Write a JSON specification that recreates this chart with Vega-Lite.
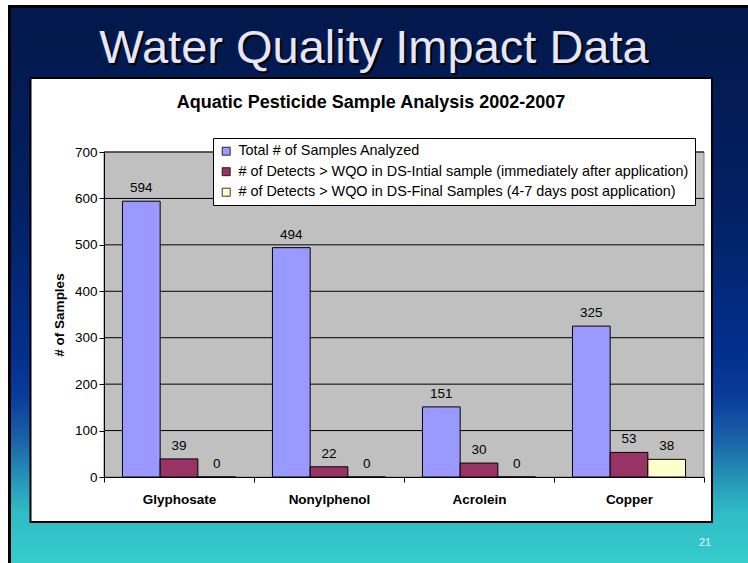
{
  "$schema": "https://vega.github.io/schema/vega-lite/v6.json",
  "width": 600,
  "height": 325,
  "autosize": {"type": "none"},
  "padding": {"left": 104, "top": 152, "right": 44, "bottom": 86},
  "background": "white",
  "config": {
    "font": "Liberation Sans",
    "view": {"stroke": null},
    "axis": {"labelFont": "Liberation Sans", "labelColor": "black", "domainColor": "black", "tickColor": "black", "grid": false, "titleFont": "Liberation Sans", "titleColor": "black"}
  },
  "datasets": {
    "bars": [
      {"substance": "Glyphosate", "series": "Total # of Samples Analyzed", "samples": 594},
      {"substance": "Glyphosate", "series": "# of Detects > WQO in DS-Intial sample (immediately after application)", "samples": 39},
      {"substance": "Glyphosate", "series": "# of Detects > WQO in DS-Final Samples (4-7 days post application)", "samples": 0},
      {"substance": "Nonylphenol", "series": "Total # of Samples Analyzed", "samples": 494},
      {"substance": "Nonylphenol", "series": "# of Detects > WQO in DS-Intial sample (immediately after application)", "samples": 22},
      {"substance": "Nonylphenol", "series": "# of Detects > WQO in DS-Final Samples (4-7 days post application)", "samples": 0},
      {"substance": "Acrolein", "series": "Total # of Samples Analyzed", "samples": 151},
      {"substance": "Acrolein", "series": "# of Detects > WQO in DS-Intial sample (immediately after application)", "samples": 30},
      {"substance": "Acrolein", "series": "# of Detects > WQO in DS-Final Samples (4-7 days post application)", "samples": 0},
      {"substance": "Copper", "series": "Total # of Samples Analyzed", "samples": 325},
      {"substance": "Copper", "series": "# of Detects > WQO in DS-Intial sample (immediately after application)", "samples": 53},
      {"substance": "Copper", "series": "# of Detects > WQO in DS-Final Samples (4-7 days post application)", "samples": 38}
    ],
    "grid": [{"value": 100}, {"value": 200}, {"value": 300}, {"value": 400}, {"value": 500}, {"value": 600}, {"value": 700}],
    "page": [{"page": "21"}],
    "heading": [{"heading": "Water Quality Impact Data"}],
    "charttitle": [{"charttitle": "Aquatic Pesticide Sample Analysis 2002-2007"}]
  },
  "resolve": {"scale": {"x": "independent", "y": "independent"}},
  "layer": [
    {
      "data": {"values": [{}]},
      "mark": {"type": "rect", "color": "black"},
      "encoding": {
        "x": {"datum": -0.16, "type": "quantitative", "scale": {"domain": [0, 1], "nice": false}, "axis": null},
        "x2": {"datum": 1.1},
        "y": {"datum": 1016.6, "type": "quantitative", "scale": {"domain": [0, 700]}, "axis": null},
        "y2": {"datum": -200}
      }
    },
    {
      "data": {"values": [{}]},
      "mark": {
        "type": "rect",
        "color": {
          "gradient": "linear", "x1": 0, "y1": 0, "x2": 0, "y2": 1,
          "stops": [
            {"offset": 0, "color": "#03184a"},
            {"offset": 0.35, "color": "#022062"},
            {"offset": 0.62, "color": "#032f8c"},
            {"offset": 0.7, "color": "#0a3c9c"},
            {"offset": 0.78, "color": "#1a64a8"},
            {"offset": 0.85, "color": "#2696b8"},
            {"offset": 0.91, "color": "#30bcc6"},
            {"offset": 1, "color": "#36cccc"}
          ]
        }
      },
      "encoding": {
        "x": {"datum": -0.155, "type": "quantitative", "scale": {"domain": [0, 1], "nice": false}, "axis": null},
        "x2": {"datum": 1.1},
        "y": {"datum": 1010.2, "type": "quantitative", "scale": {"domain": [0, 700]}, "axis": null},
        "y2": {"datum": -185.2}
      }
    },
    {
      "data": {"name": "heading"},
      "mark": {"type": "text", "fontSize": 47, "font": "Liberation Sans", "color": "#000000", "align": "center", "baseline": "alphabetic", "dx": 2, "dy": 2},
      "encoding": {
        "x": {"datum": 0.45, "type": "quantitative", "scale": {"domain": [0, 1], "nice": false}, "axis": null},
        "y": {"datum": 891.7, "type": "quantitative", "scale": {"domain": [0, 700]}, "axis": null},
        "text": {"field": "heading"}
      }
    },
    {
      "data": {"name": "heading"},
      "mark": {"type": "text", "fontSize": 47, "font": "Liberation Sans", "color": "#e6e6fa", "align": "center", "baseline": "alphabetic"},
      "encoding": {
        "x": {"datum": 0.45, "type": "quantitative", "scale": {"domain": [0, 1], "nice": false}, "axis": null},
        "y": {"datum": 891.7, "type": "quantitative", "scale": {"domain": [0, 700]}, "axis": null},
        "text": {"field": "heading"}
      }
    },
    {
      "data": {"values": [{}]},
      "mark": {"type": "rect", "fill": "white", "stroke": "black", "strokeWidth": 2},
      "encoding": {
        "x": {"datum": -0.1225, "type": "quantitative", "scale": {"domain": [0, 1], "nice": false}, "axis": null},
        "x2": {"datum": 1.0133},
        "y": {"datum": 859.4, "type": "quantitative", "scale": {"domain": [0, 700]}, "axis": null},
        "y2": {"datum": -96.9}
      }
    },
    {
      "data": {"name": "charttitle"},
      "mark": {"type": "text", "fontSize": 18, "fontWeight": "bold", "font": "Liberation Sans", "color": "black", "align": "center", "baseline": "alphabetic"},
      "encoding": {
        "x": {"datum": 0.445, "type": "quantitative", "scale": {"domain": [0, 1], "nice": false}, "axis": null},
        "y": {"datum": 794.8, "type": "quantitative", "scale": {"domain": [0, 700]}, "axis": null},
        "text": {"field": "charttitle"}
      }
    },
    {
      "data": {"values": [{}]},
      "mark": {"type": "rect", "fill": "#c0c0c0", "stroke": "#808080", "strokeWidth": 1},
      "encoding": {
        "x": {"datum": 0, "type": "quantitative", "scale": {"domain": [0, 1], "nice": false}, "axis": null},
        "x2": {"datum": 1},
        "y": {"datum": 0, "type": "quantitative", "scale": {"domain": [0, 700]}, "axis": null},
        "y2": {"datum": 700}
      }
    },
    {
      "data": {"name": "grid"},
      "mark": {"type": "rule", "color": "black", "strokeWidth": 1},
      "encoding": {
        "x": {"datum": 0, "type": "quantitative", "scale": {"domain": [0, 1], "nice": false}, "axis": null},
        "x2": {"datum": 1},
        "y": {"field": "value", "type": "quantitative", "scale": {"domain": [0, 700]}, "axis": null}
      }
    },
    {
      "data": {"name": "bars"},
      "encoding": {
        "x": {
          "field": "substance", "type": "nominal",
          "sort": ["Glyphosate", "Nonylphenol", "Acrolein", "Copper"],
          "scale": {"paddingInner": 0, "paddingOuter": 0},
          "axis": {"title": null, "labelAngle": 0, "labelFontSize": 13.5, "labelFontWeight": "bold", "labelPadding": 10, "tickBand": "extent", "tickSize": 5, "zindex": 1}
        },
        "xOffset": {
          "field": "series", "type": "nominal",
          "sort": ["Total # of Samples Analyzed", "# of Detects > WQO in DS-Intial sample (immediately after application)", "# of Detects > WQO in DS-Final Samples (4-7 days post application)"],
          "scale": {"paddingInner": 0, "paddingOuter": 0.49}
        },
        "y": {
          "field": "samples", "type": "quantitative",
          "scale": {"domain": [0, 700]},
          "axis": {"title": "# of Samples", "titleFontSize": 13.5, "titleFontWeight": "bold", "titlePadding": 8, "labelFontSize": 13.5, "tickSize": 5, "values": [0, 100, 200, 300, 400, 500, 600, 700], "zindex": 1}
        }
      },
      "layer": [
        {
          "mark": {"type": "bar", "stroke": "black", "strokeWidth": 1},
          "encoding": {
            "color": {
              "field": "series", "type": "nominal",
              "scale": {
                "domain": ["Total # of Samples Analyzed", "# of Detects > WQO in DS-Intial sample (immediately after application)", "# of Detects > WQO in DS-Final Samples (4-7 days post application)"],
                "range": ["#9999ff", "#993366", "#ffffcc"]
              },
              "legend": {
                "title": null, "orient": "none", "legendX": 109, "legendY": -14, "direction": "vertical",
                "fillColor": "white", "strokeColor": "black", "padding": 6,
                "symbolType": "square", "symbolSize": 64, "symbolStrokeColor": "black", "symbolStrokeWidth": 0.8,
                "labelFont": "Liberation Sans", "labelFontSize": 14.4, "labelColor": "black", "labelLimit": 600,
                "rowPadding": 5.5, "labelOffset": 5, "zindex": 1
              }
            }
          }
        },
        {
          "mark": {"type": "text", "baseline": "bottom", "dy": -6, "fontSize": 13.5, "color": "black", "font": "Liberation Sans"},
          "encoding": {"text": {"field": "samples", "type": "quantitative"}}
        }
      ]
    },
    {
      "data": {"name": "page"},
      "mark": {"type": "text", "fontSize": 11, "color": "#e8f8f8", "font": "Liberation Sans"},
      "encoding": {
        "x": {"datum": 1.0017, "type": "quantitative", "scale": {"domain": [0, 1], "nice": false}, "axis": null},
        "y": {"datum": -142, "type": "quantitative", "scale": {"domain": [0, 700]}, "axis": null},
        "text": {"field": "page"}
      }
    }
  ]
}
